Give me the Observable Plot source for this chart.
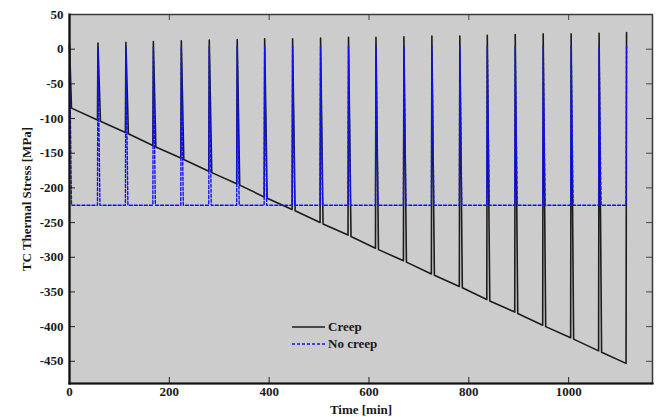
<!DOCTYPE html>
<html>
<head>
<meta charset="utf-8">
<script src="https://cdn.jsdelivr.net/npm/d3@7"></script>
<script src="https://cdn.jsdelivr.net/npm/@observablehq/plot@0.6"></script>
<style>
  html, body { margin: 0; padding: 0; background: #ffffff; }
  #wrap { position: relative; width: 665px; height: 417px; }
  #chart svg, #chart svg text { font-family: "Liberation Serif", "Times New Roman", Times, serif !important; }
  #legend { position: absolute; left: 292px; top: 318px; font: bold 13px "Liberation Serif", "Times New Roman", serif; color: #1a1a1a; }
  #legend .row { display: flex; align-items: center; height: 17.5px; }
  #legend svg { margin-right: 3px; }
</style>
</head>
<body>
<div id="wrap">
  <div id="chart"></div>
  <div id="legend"></div>
</div>
<script>
// ---- data ----
const xTicks = [0, 200, 400, 600, 800, 1000];
const yTicks = [-450, -400, -350, -300, -250, -200, -150, -100, -50, 0, 50];
const xDomain = [0, 1168];
const yDomain = [-482, 50];

// time [min] of each thermal cycle spike
const cycleTime = [56, 112, 167, 223, 279, 335, 390, 446, 502, 558, 613, 669, 725, 781, 836, 892, 948, 1004, 1060, 1115];
// Creep: stress just before each spike, just after it, and the spike peak
const creepBefore = [-102, -120, -139, -157, -176, -194, -213, -231, -250, -268, -287, -305, -324, -342, -361, -379, -398, -416, -435, -453];
const creepAfter  = [-104, -122, -141, -159, -178, -196, -215, -233, -252, -270, -289, -307, -326, -344, -363, -381, -400, -418, -437];
const creepPeak   = [9, 10, 11, 12, 13, 14, 15, 15, 16, 17, 17, 18, 19, 19, 20, 21, 22, 22, 23, 24];
const creepInitial = [8, -85];      // value at t=0 and after the initial drop
// No creep: constant level and spike peaks
const noCreepLevel = -225;
const noCreepPeak = [3, 3, 3, 4, 4, 4, 4, 4, 4, 4, 4, 4, 4, 4, 4, 4, 4, 4, 4, 4];
const noCreepInitial = 5;
// spike timing (minutes after the cycle start)
const spikeRise = 1, creepFall = 6, noCreepFall = 5, initialDrop = 4;

// ---- build line series ----
const creep = [{t: 0, v: creepInitial[0]}, {t: initialDrop, v: creepInitial[1]}];
cycleTime.forEach((t, k) => {
  creep.push({t, v: creepBefore[k]});
  creep.push({t: t + spikeRise, v: creepPeak[k]});
  if (k < creepAfter.length) creep.push({t: t + creepFall, v: creepAfter[k]});
});
const noCreep = [{t: 0, v: noCreepInitial}, {t: initialDrop, v: noCreepLevel}];
cycleTime.forEach((t, k) => {
  noCreep.push({t, v: noCreepLevel});
  noCreep.push({t: t + spikeRise, v: noCreepPeak[k]});
  if (k < cycleTime.length - 1) noCreep.push({t: t + noCreepFall, v: noCreepLevel});
});

const W = 665, H = 417, mL = 69, mR = 13, mT = 14, mB = 34;
const innerH = H - mT - mB, innerW = W - mL - mR;
const tickLen = 6;
const fmt = d => String(d);

const chart = Plot.plot({
  width: W, height: H,
  marginLeft: mL, marginRight: mR, marginTop: mT, marginBottom: mB,
  style: {fontFamily: "'Liberation Serif', 'Times New Roman', serif", fontWeight: "bold", fontSize: "13px", color: "#1a1a1a", background: "#ffffff"},
  x: {domain: xDomain},
  y: {domain: yDomain},
  marks: [
    Plot.frame({fill: "#cccccc", stroke: null}),
    Plot.line(creep, {x: "t", y: "v", stroke: "#1c1c1c", strokeWidth: 1.6}),
    Plot.line(noCreep, {x: "t", y: "v", stroke: "#1010ff", strokeWidth: 1.4, strokeDasharray: "3,2"}),
    // inward ticks (bottom, top, left, right)
    Plot.tickX(xTicks, {x: d => d, insetTop: innerH - tickLen, stroke: "#222"}),
    Plot.tickX(xTicks, {x: d => d, insetBottom: innerH - tickLen, stroke: "#444"}),
    Plot.tickY(yTicks, {y: d => d, insetRight: innerW - tickLen, stroke: "#222"}),
    Plot.tickY(yTicks, {y: d => d, insetLeft: innerW - tickLen, stroke: "#444"}),
    Plot.frame({stroke: "#3a3a3a", strokeWidth: 1.5}),
    Plot.frame({anchor: "left", stroke: "#111", strokeWidth: 2.2}),
    Plot.frame({anchor: "bottom", stroke: "#111", strokeWidth: 2.2}),
    Plot.axisX({ticks: xTicks, tickSize: 0, tickPadding: 3, tickFormat: fmt,
      label: "Time [min]", labelAnchor: "center", labelOffset: 30, labelArrow: "none"}),
    Plot.axisY({ticks: yTicks, tickSize: 0, tickPadding: 6, tickFormat: fmt,
      label: "TC Thermal Stress [MPa]", labelAnchor: "center", labelOffset: 48, labelArrow: "none"})
  ]
});
document.getElementById("chart").appendChild(chart);

// ---- legend (inside the axes) ----
const legendItems = [
  {name: "Creep", color: "#1c1c1c", dash: null},
  {name: "No creep", color: "#1010ff", dash: "3,2"}
];
const legend = document.getElementById("legend");
legendItems.forEach(it => {
  const row = document.createElement("div");
  row.className = "row";
  const s = d3.create("svg").attr("width", 33).attr("height", 6);
  s.append("line").attr("x1", 0).attr("x2", 33).attr("y1", 3).attr("y2", 3)
    .attr("stroke", it.color).attr("stroke-width", 1.5)
    .attr("stroke-dasharray", it.dash);
  row.appendChild(s.node());
  const span = document.createElement("span");
  span.textContent = it.name;
  row.appendChild(span);
  legend.appendChild(row);
});
</script>
</body>
</html>
